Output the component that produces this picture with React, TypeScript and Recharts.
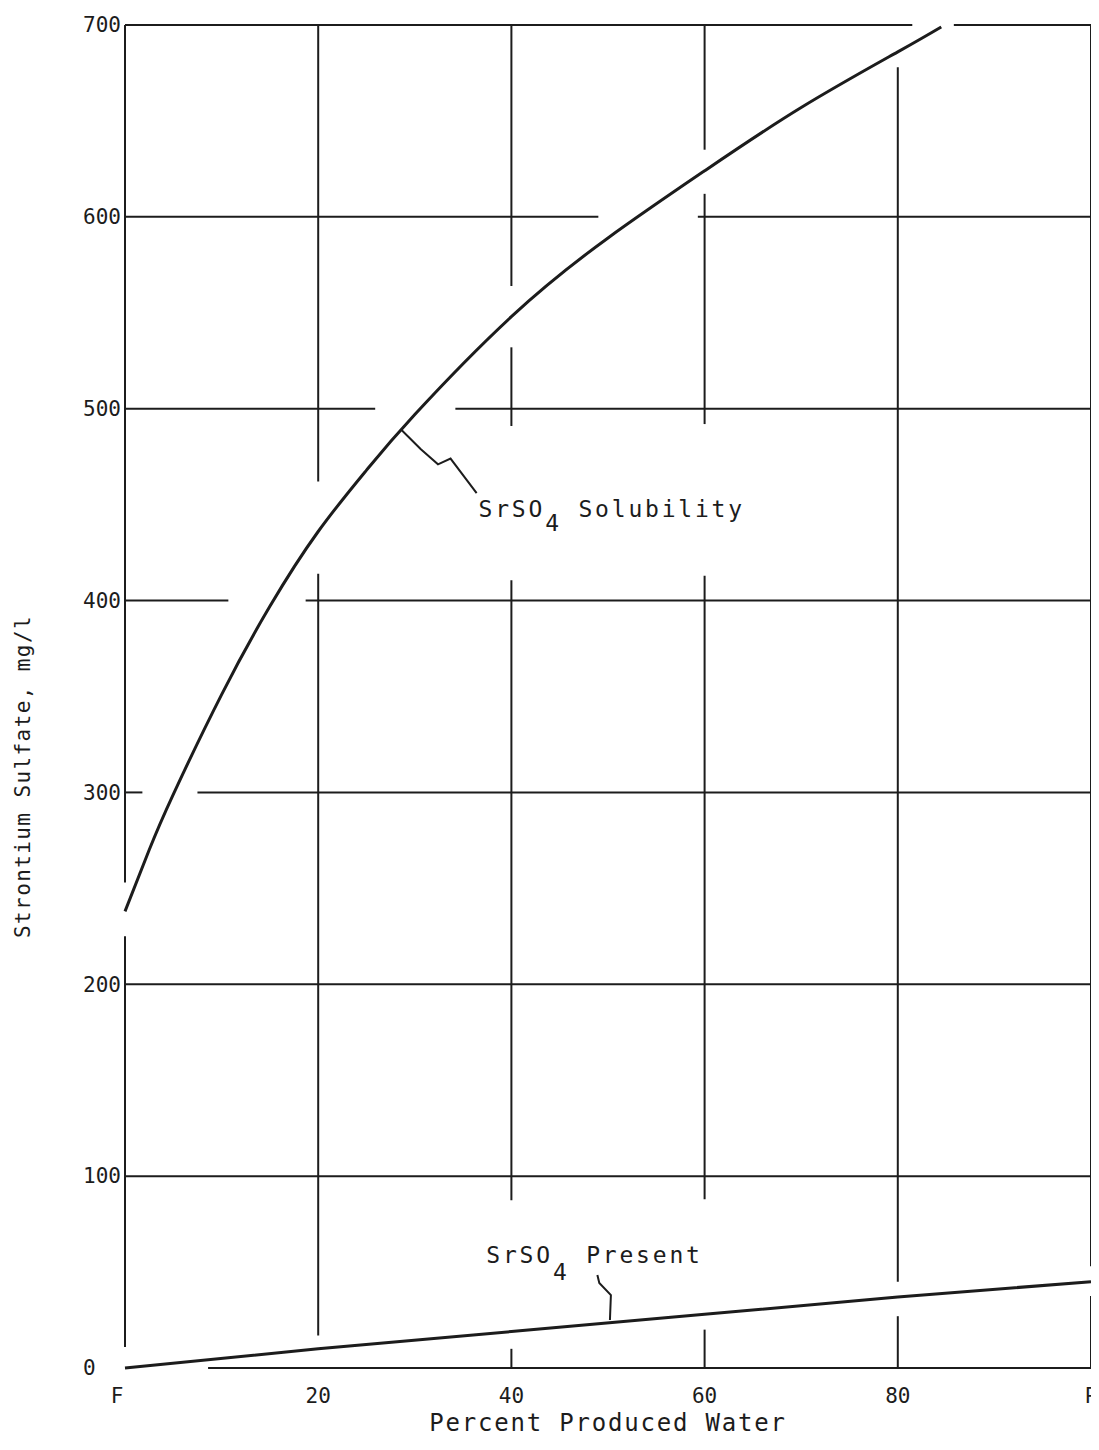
import { ComposedChart, Line, Scatter, XAxis, YAxis, ReferenceLine } from 'recharts';

// Strontium sulfate solubility vs. mixing ratio of produced water (F = fresh/injection, P = produced)

const FONT = '"DejaVu Sans Mono", "Liberation Mono", monospace';
const INK = '#1c1c1c';

const xTicks = [0, 20, 40, 60, 80, 100];
const xTickLabels = ['F', '20', '40', '60', '80', 'P'];
const yTicks = [0, 100, 200, 300, 400, 500, 600, 700];

// SrSO4 solubility curve, mg/l
const solubilityX = [0, 2.5, 5, 10, 15, 20, 25, 30, 40, 50, 60, 70, 80, 84.5];
const solubilityY = [238, 270, 299, 351, 397, 436, 468, 497, 548, 589, 624, 657, 686, 699];

// SrSO4 actually present, mg/l
const presentX = [0, 20, 40, 60, 80, 100];
const presentY = [0, 10, 19, 28, 37, 45];

// hand drawn leader lines from the labels to the curves
const solLeaderX = [28.6, 30.6, 32.4, 33.7, 36.4];
const solLeaderY = [489, 479, 471, 474, 456];
const presLeaderX = [48.9, 49.1, 50.3, 50.2];
const presLeaderY = [48.5, 44.3, 38, 25];

// label anchors (start of text, on baseline)
const solLabel = { x: 36.6, y: 443.7 };
const presLabel = { x: 37.4, y: 54.7 };

// the draftsman left breaks in the grid where curves and labels cross
const hGridGaps: Record<number, [number, number][]> = {
    0: [[0, 8.6]],
    100: [],
    200: [],
    300: [[1.8, 7.5]],
    400: [[10.7, 18.7]],
    500: [[25.9, 34.2]],
    600: [[49.0, 59.3]],
    700: [[81.5, 85.8]],
};
const vGridGaps: Record<number, [number, number][]> = {
    0: [[0, 11], [225, 253]],
    20: [[0, 17], [414, 462]],
    40: [[10, 87.5], [410.6, 491], [532, 564]],
    60: [[20, 88], [413, 492], [612, 635]],
    80: [[27, 45], [678, 700]],
    100: [[37.5, 53]],
};

const zip = (xs: number[], ys: number[]) => xs.map((x, i) => ({ x, y: ys[i] }));

function pieces(lo: number, hi: number, gaps: [number, number][]): [number, number][] {
    const out: [number, number][] = [];
    let cur = lo;
    [...gaps].sort((a, b) => a[0] - b[0]).forEach(([g0, g1]) => {
        if (g0 > cur) out.push([cur, g0]);
        cur = Math.max(cur, g1);
    });
    if (cur < hi) out.push([cur, hi]);
    return out;
}

function gridLines() {
    const lines: JSX.Element[] = [];
    yTicks.forEach((v) => {
        pieces(0, 100, hGridGaps[v] ?? []).forEach(([a, b], i) => {
            lines.push(
                <ReferenceLine
                    key={`h${v}-${i}`}
                    segment={[{ x: a, y: v }, { x: b, y: v }]}
                    stroke={INK}
                    strokeWidth={2}
                    ifOverflow="visible"
                />
            );
        });
    });
    xTicks.forEach((v) => {
        pieces(0, 700, vGridGaps[v] ?? []).forEach(([a, b], i) => {
            lines.push(
                <ReferenceLine
                    key={`v${v}-${i}`}
                    segment={[{ x: v, y: a }, { x: v, y: b }]}
                    stroke={INK}
                    strokeWidth={2}
                    ifOverflow="visible"
                />
            );
        });
    });
    return lines;
}

function chemLabel(name: string, sub: number) {
    return (props: any) => (
        <text
            x={props.cx}
            y={props.cy}
            fontFamily={FONT}
            fontSize={23}
            letterSpacing={2.8}
            fill={INK}
        >
            SrSO
            <tspan dy={sub}>4</tspan>
            <tspan dy={-sub}>{' ' + name}</tspan>
        </text>
    );
}

function YTick(props: any) {
    const { x, y, payload } = props;
    return (
        <text x={x - 42} y={y} dy="0.35em" textAnchor="start" fontFamily={FONT} fontSize={21} fill={INK}>
            {payload.value}
        </text>
    );
}

function XTick(props: any) {
    const { x, y, payload } = props;
    const i = xTicks.indexOf(payload.value);
    // the F label sits a touch left of the frame, as lettered on the original
    const shift = i === 0 ? -8 : 0;
    return (
        <text
            x={x + shift}
            y={y}
            dy="0.71em"
            textAnchor="middle"
            fontFamily={FONT}
            fontSize={21}
            fill={INK}
        >
            {xTickLabels[i]}
        </text>
    );
}

export default function App() {
    return (
        <div style={{ width: 1091, height: 1434, background: '#fff' }}>
            <ComposedChart
                width={1091}
                height={1434}
                margin={{ top: 17, right: 8, bottom: 0, left: 0 }}
                style={{ fontFamily: FONT }}
            >
                <XAxis
                    dataKey="x"
                    type="number"
                    domain={[0, 100]}
                    ticks={xTicks}
                    interval={0}
                    tick={XTick}
                    axisLine={false}
                    tickLine={false}
                    tickSize={0}
                    tickMargin={20}
                    height={74}
                    label={({ viewBox }: any) => (
                        <text
                            x={viewBox.x + viewBox.width / 2}
                            y={viewBox.y + 63}
                            textAnchor="middle"
                            fontFamily={FONT}
                            fontSize={24}
                            letterSpacing={1.8}
                            fill={INK}
                        >
                            Percent Produced Water
                        </text>
                    )}
                />
                <YAxis
                    dataKey="y"
                    type="number"
                    domain={[0, 700]}
                    ticks={yTicks}
                    interval={0}
                    tick={YTick}
                    axisLine={false}
                    tickLine={false}
                    tickSize={0}
                    tickMargin={0}
                    width={117}
                    label={({ viewBox }: any) => {
                        const cx = viewBox.x + 22;
                        const cy = viewBox.y + viewBox.height / 2 + 80;
                        return (
                            <text
                                x={cx}
                                y={cy}
                                transform={`rotate(-90 ${cx} ${cy})`}
                                textAnchor="middle"
                                fontFamily={FONT}
                                fontSize={21}
                                letterSpacing={1.4}
                                fill={INK}
                            >
                                Strontium Sulfate, mg/l
                            </text>
                        );
                    }}
                />

                {gridLines()}

                <Line
                    data={zip(solubilityX, solubilityY)}
                    dataKey="y"
                    type="natural"
                    stroke={INK}
                    strokeWidth={3}
                    dot={false}
                    isAnimationActive={false}
                />
                <Line
                    data={zip(presentX, presentY)}
                    dataKey="y"
                    type="linear"
                    stroke={INK}
                    strokeWidth={3}
                    dot={false}
                    isAnimationActive={false}
                />

                {/* leaders */}
                <Line
                    data={zip(solLeaderX, solLeaderY)}
                    dataKey="y"
                    type="linear"
                    stroke={INK}
                    strokeWidth={2}
                    dot={false}
                    isAnimationActive={false}
                />
                <Line
                    data={zip(presLeaderX, presLeaderY)}
                    dataKey="y"
                    type="linear"
                    stroke={INK}
                    strokeWidth={2}
                    dot={false}
                    isAnimationActive={false}
                />

                <Scatter data={[solLabel]} shape={chemLabel('Solubility', 14)} isAnimationActive={false} />
                <Scatter data={[presLabel]} shape={chemLabel('Present', 17)} isAnimationActive={false} />
            </ComposedChart>
        </div>
    );
}
